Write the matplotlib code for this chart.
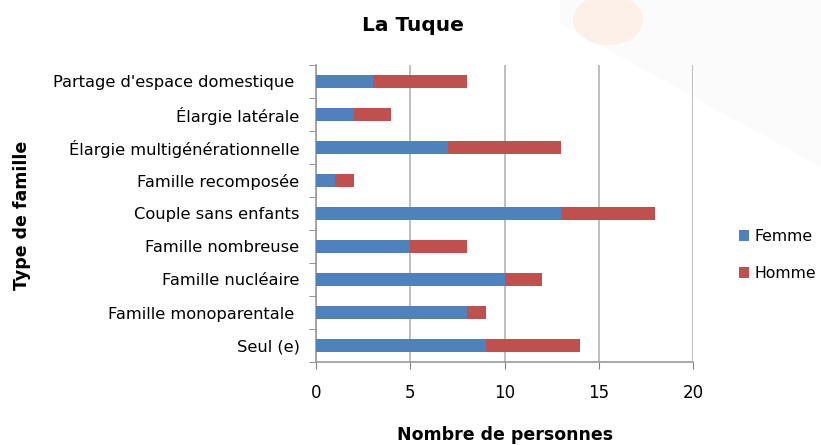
import matplotlib
matplotlib.use("Agg")
import matplotlib.pyplot as plt
from matplotlib.patches import Ellipse, Polygon
import numpy as np

# donnees (du bas vers le haut)
categories = ["Seul (e)", "Famille monoparentale ", "Famille nucléaire",
              "Famille nombreuse", "Couple sans enfants", "Famille recomposée",
              "Élargie multigénérationnelle", "Élargie latérale",
              "Partage d'espace domestique "]
femme = [9, 8, 10, 5, 13, 1, 7, 2, 3]
homme = [5, 1, 2, 3, 5, 1, 6, 2, 5]
xticks = [0, 5, 10, 15, 20]

fig = plt.figure(figsize=(8.21, 4.45), dpi=100)

# fond: bande grise tres pale et tache orange en haut a droite
bg = fig.add_axes([0, 0, 1, 1], zorder=-1)
bg.set_xlim(0, 821)
bg.set_ylim(445, 0)
bg.axis("off")
bg.add_patch(Polygon([[560, 23], [560, 0], [821, 0], [821, 167]], closed=True,
                     facecolor="#fbfbfb", edgecolor="none"))
bg.add_patch(Ellipse((608, 20), 70, 50, facecolor="#fcf0e8", edgecolor="none"))

ax = fig.add_axes([0.385, 0.1865, 0.459, 0.6675])
ax.patch.set_alpha(0)

y = np.arange(len(categories))
ax.barh(y, femme, height=0.4, color="#4F81BD", label="Femme", zorder=3)
ax.barh(y, homme, left=femme, height=0.4, color="#C0504D", label="Homme", zorder=3)

ax.set_xlim(0, 20)
ax.set_ylim(-0.5, len(categories) - 0.5)
ax.set_xticks(xticks)
ax.set_yticks(y)
ax.set_yticklabels(categories, fontsize=11.7)
ax.tick_params(axis="y", length=0, pad=12)
ax.set_yticks(np.arange(-0.5, len(categories), 1), minor=True)
ax.tick_params(axis="y", which="minor", length=5, color="#808080", direction="out")
ax.tick_params(axis="x", length=5, color="#808080", labelsize=12, pad=11)

ax.grid(axis="x", color="#b3b3b3", linewidth=1.2, zorder=0)
for s in ["top", "right"]:
    ax.spines[s].set_visible(False)
for s in ["left", "bottom"]:
    ax.spines[s].set_color("#9a9a9a")
    ax.spines[s].set_linewidth(1.2)

fig.text(0.503, 0.943, "La Tuque", fontsize=14.5, fontweight="bold",
         ha="center", va="center")
fig.text(0.615, 0.022, "Nombre de personnes", fontsize=12.5, fontweight="bold",
         ha="center", va="center")
fig.text(0.027, 0.517, "Type de famille", rotation=90, fontsize=12.5,
         fontweight="bold", ha="center", va="center")

ax.legend(loc="center left", bbox_to_anchor=(1.085, 0.36), frameon=False,
          fontsize=11.3, handlelength=0.65, handleheight=0.65, labelspacing=1.4,
          handletextpad=0.35)

fig.savefig("out.png", dpi=100)
